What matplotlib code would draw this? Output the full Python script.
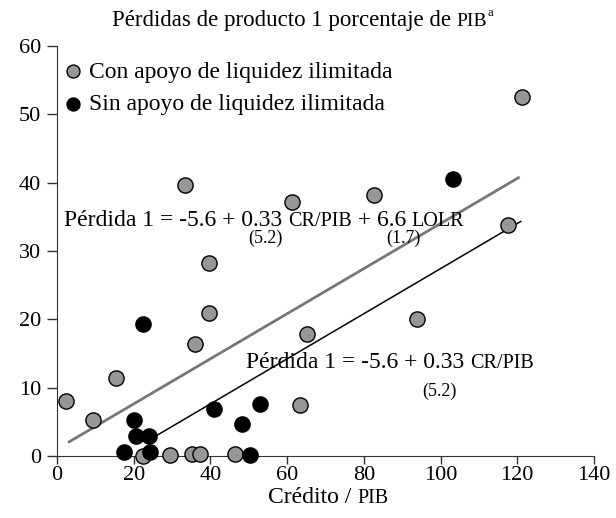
import matplotlib.pyplot as plt
import matplotlib as mpl

mpl.rcParams["font.family"] = ["Liberation Serif", "DejaVu Serif"]

# con apoyo de liquidez ilimitada (gris)
con_x = [2.4, 9.5, 15.4, 22.3, 29.4, 33.4, 35.1, 35.9, 37.4, 39.7, 39.7, 46.5,
         61.2, 63.4, 65.2, 82.6, 93.9, 117.5, 121.3]
con_y = [8.0, 5.3, 11.4, 0.0, 0.1, 39.7, 0.2, 16.4, 0.2, 28.2, 20.9, 0.3,
         37.1, 7.5, 17.9, 38.1, 20.0, 33.8, 52.5]

# sin apoyo de liquidez ilimitada (negro)
sin_x = [17.4, 20.0, 20.5, 22.3, 24.1, 24.3, 41.0, 48.2, 50.3, 52.8, 103.3]
sin_y = [0.5, 5.2, 2.9, 19.3, 2.9, 0.6, 6.8, 4.7, 0.1, 7.6, 40.5]

# rectas de regresion: perdida = a + b * credito
con_a, con_b = 1.0, 0.33     # -5.6 + 6.6
sin_a, sin_b = -5.6, 0.33
con_rango = [3.2, 120.3]
sin_rango = [24.0, 120.9]

GRANDE = 17     # texto normal
VERSAL = 14.5   # versalitas (PIB, CR, LOLR)
CHICO = 13      # errores estandar


def encadenar(x, y, piezas, ycoords, crear):
    # trozos de texto seguidos sobre la misma linea base (para las versalitas)
    t = crear(x, y, piezas[0][0], fontsize=piezas[0][1], va="baseline", ha="left")
    for s, size in piezas[1:]:
        t = plt.annotate(s, xy=(1, y), xycoords=(t, ycoords), fontsize=size,
                         va="baseline", ha="left", annotation_clip=False)
    return t


fig = plt.figure(figsize=(6.16, 5.18), dpi=100)
ax = fig.add_axes([0.0925, 0.12, 0.8718, 0.7915])

ax.plot(con_rango, [con_a + con_b * v for v in con_rango], color="#777777", linewidth=2, zorder=1)
ax.plot(sin_rango, [sin_a + sin_b * v for v in sin_rango], color="black", linewidth=1.1, zorder=1)

ax.scatter(con_x, con_y, s=120, color="#979797", edgecolor="black", linewidth=1,
           label="Con apoyo de liquidez ilimitada", zorder=3, clip_on=False)
ax.scatter(sin_x, sin_y, s=120, color="black", edgecolor="black", linewidth=1,
           label="Sin apoyo de liquidez ilimitada", zorder=3, clip_on=False)

ax.set_xlim(0, 140)
ax.set_ylim(0, 60)
ax.set_xticks(range(0, 141, 20))
ax.set_yticks(range(0, 61, 10))
ax.spines["top"].set_visible(False)
ax.spines["right"].set_visible(False)
for s in ["left", "bottom"]:
    ax.spines[s].set_color("#333333")
ax.tick_params(direction="out", width=1, color="#333333", labelsize=16)
ax.tick_params(axis="y", length=7.5, pad=4)
ax.tick_params(axis="x", length=6, pad=1.5)

ax.legend(loc="upper left", bbox_to_anchor=(0.0075, 0.963), frameon=False, fontsize=GRANDE,
          handletextpad=0.2, labelspacing=0.47, borderaxespad=0, borderpad=0,
          handlelength=1.0, markerscale=0.85, scatterpoints=1)

# ecuaciones
encadenar(1.8, 33.7, [("Pérdida 1 = -5.6 + 0.33 ", GRANDE), ("CR/PIB", VERSAL),
                      (" + 6.6 ", GRANDE), ("LOLR", VERSAL)], "data", ax.text)
ax.text(54.3, 31.9, "(5.2)", fontsize=CHICO, ha="center", va="center")
ax.text(90.3, 31.9, "(1.7)", fontsize=CHICO, ha="center", va="center")

encadenar(49.3, 12.9, [("Pérdida 1 = -5.6 + 0.33 ", GRANDE), ("CR/PIB", VERSAL)], "data", ax.text)
ax.text(99.6, 9.5, "(5.2)", fontsize=CHICO, ha="center", va="center")

# titulo y etiqueta del eje x
t = encadenar(0.182, 0.950, [("Pérdidas de producto 1 porcentaje de ", 16.5), ("PIB", 14)],
              "figure fraction", fig.text)
plt.annotate("a", xy=(1, 0.970), xycoords=(t, "figure fraction"), fontsize=9,
             va="baseline", ha="left", annotation_clip=False)

encadenar(0.435, 0.029, [("Crédito / ", GRANDE), ("PIB", VERSAL)], "figure fraction", fig.text)

fig.savefig("out.png", dpi=100)
